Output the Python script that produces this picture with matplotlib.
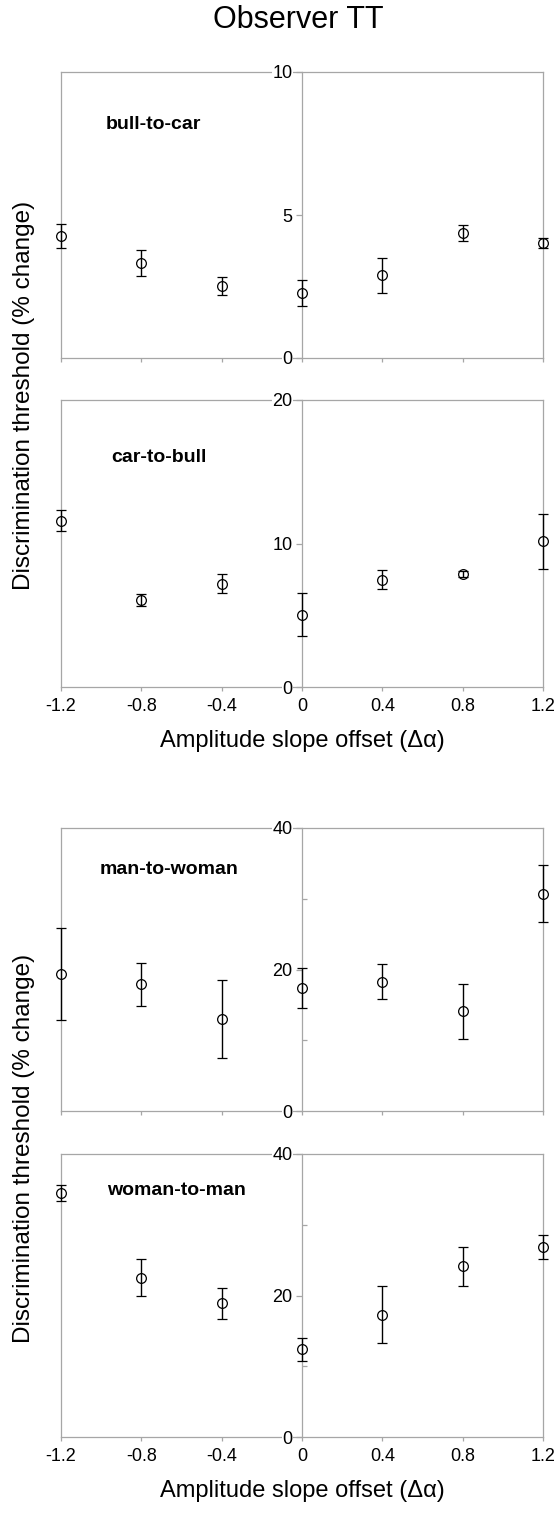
#!/usr/bin/env python3
"""Observer TT: discrimination thresholds vs amplitude slope offset, four morph panels."""

import matplotlib
matplotlib.use("Agg")
import matplotlib.pyplot as plt

plt.rcParams['font.family'] = ['Liberation Sans', 'DejaVu Sans']
plt.rcParams['axes.unicode_minus'] = False

# --- data ---
slope_offsets = [-1.2, -0.8, -0.4, 0.0, 0.4, 0.8, 1.2]
slope_tick_labels = ['-1.2', '-0.8', '-0.4', '0', '0.4', '0.8', '1.2']

bull_to_car = [4.28, 3.33, 2.52, 2.27, 2.89, 4.38, 4.02]
bull_to_car_err = [0.42, 0.45, 0.31, 0.44, 0.60, 0.28, 0.18]

car_to_bull = [11.6, 6.07, 7.21, 5.02, 7.47, 7.88, 10.14]
car_to_bull_err = [0.70, 0.40, 0.63, 1.50, 0.65, 0.20, 1.90]

man_to_woman = [19.3, 17.9, 13.0, 17.4, 18.3, 14.1, 30.7]
man_to_woman_err = [6.5, 3.0, 5.5, 2.8, 2.5, 3.9, 4.0]

woman_to_man = [34.5, 22.5, 18.9, 12.4, 17.3, 24.1, 26.8]
woman_to_man_err = [1.1, 2.6, 2.2, 1.6, 4.0, 2.8, 1.7]

# label, values, errors, y max, major ticks, minor ticks, label pos (x data, y axes)
panels = [
    ("bull-to-car", bull_to_car, bull_to_car_err, 10, [0, 5, 10], [], (-0.975, 0.815)),
    ("car-to-bull", car_to_bull, car_to_bull_err, 20, [0, 10, 20], [], (-0.95, 0.80)),
    ("man-to-woman", man_to_woman, man_to_woman_err, 40, [0, 20, 40], [10, 30], (-1.01, 0.855)),
    ("woman-to-man", woman_to_man, woman_to_man_err, 40, [0, 20, 40], [10, 30], (-0.97, 0.87)),
]

# --- layout in pixels (figure is 560 x 1517) ---
W, H = 560, 1517
left_px, right_px = 61, 543
panel_rows = [(72, 358), (400, 687), (828, 1111), (1154, 1437)]
frame_gray = '#a6a6a6'

fig = plt.figure(figsize=(W / 100, H / 100), dpi=100)
fig.patch.set_facecolor('white')

axes = []
for (top, bottom), (label, vals, errs, ymax, major, minor, lpos) in zip(panel_rows, panels):
    ax = fig.add_axes([left_px / W, (H - bottom) / H,
                       (right_px - left_px) / W, (bottom - top) / H])
    axes.append(ax)

    ax.errorbar(slope_offsets, vals, yerr=errs, fmt='o', ms=7,
                mfc='none', mec='black', mew=0.9, ecolor='black',
                elinewidth=1.0, capsize=3.3, capthick=1.0, clip_on=False, zorder=3)

    ax.set_xlim(-1.2, 1.2)
    ax.set_ylim(0, ymax)

    # y axis sits at x = 0, frame drawn around the panel
    ax.spines['left'].set_position(('data', 0))
    for sp in ax.spines.values():
        sp.set_color(frame_gray)
        sp.set_linewidth(0.9)
    ax.plot([0, 0], [0, 1], transform=ax.transAxes, color=frame_gray,
            lw=0.9, clip_on=False, zorder=2.4)
    ax.set_axisbelow(False)

    ax.set_yticks(major)
    ax.set_yticks(minor, minor=True)
    ax.tick_params(axis='y', which='major', direction='out', length=4.3,
                   width=0.9, color=frame_gray, labelsize=13, pad=2.5)
    ax.tick_params(axis='y', which='minor', direction='in', length=3.6,
                   width=0.9, color=frame_gray)
    for t in ax.yaxis.get_major_ticks():
        t.label1.set_bbox(dict(facecolor='white', edgecolor='none', pad=0.6))

    ax.set_xticks(slope_offsets)
    ax.tick_params(axis='x', direction='out', length=3, width=0.9,
                   color=frame_gray, labelsize=13, pad=5)
    ax.set_xticklabels(slope_tick_labels)

    ax.text(lpos[0], lpos[1], label, transform=ax.get_xaxis_transform(),
            ha='left', va='center', fontsize=14, fontweight='bold')

# only the lower panel of each pair carries x labels
for ax in (axes[0], axes[2]):
    ax.tick_params(axis='x', labelbottom=False)
for ax in (axes[1], axes[3]):
    ax.set_xlabel(u'Amplitude slope offset (\u0394\u03b1)', fontsize=17, labelpad=11)

# shared y labels per pair
for (t1, _), (_, b2) in ((panel_rows[0], panel_rows[1]), (panel_rows[2], panel_rows[3])):
    fig.text(24 / W, 1 - ((t1 + b2) / 2 + 16) / H, 'Discrimination threshold (% change)',
             rotation=90, ha='center', va='center', fontsize=17.5)

fig.text(298 / W, 1 - 20 / H, 'Observer TT', ha='center', va='center', fontsize=22)

fig.savefig('out.png', dpi=100, facecolor='white')
